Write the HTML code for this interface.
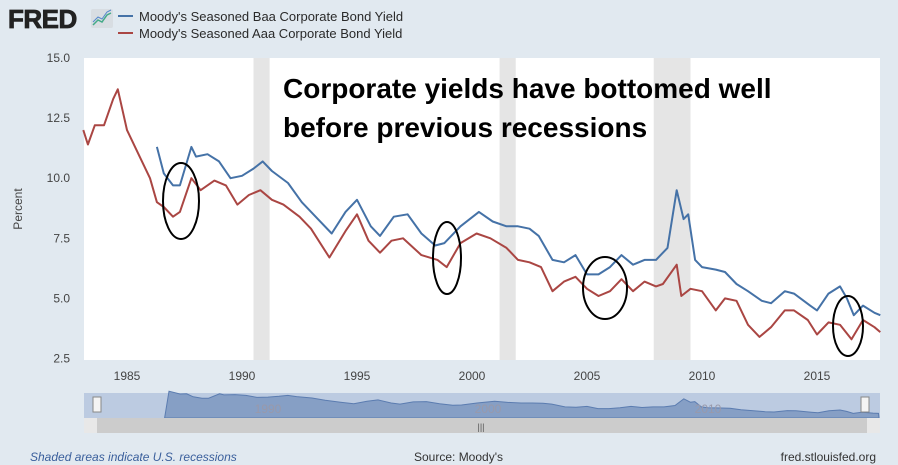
<!DOCTYPE html>
<html><head><meta charset="utf-8"><style>
body{margin:0;background:#e1e9f0;font-family:"Liberation Sans",sans-serif;}
svg{display:block}
</style></head><body>
<svg id="c" width="898" height="465">
<rect width="898" height="465" fill="#e1e9f0"/>
<g>
<text x="8" y="28" font-size="26" font-weight="bold" fill="#222" stroke="#222" stroke-width="0.8" letter-spacing="-0.5">FRED</text>
<rect x="91" y="9" width="22" height="19" rx="2" fill="#d8dde2"/>
<polyline points="93,25 98,20 102,22 107,15 111,13" fill="none" stroke="#4a8" stroke-width="1.5"/>
<polyline points="93,22 98,17 102,19 107,12 111,10" fill="none" stroke="#58c" stroke-width="1"/>
</g>
<g font-size="13" fill="#2a2a2a">
<line x1="118" y1="16" x2="133" y2="16" stroke="#4572a7" stroke-width="2"/>
<text x="139" y="21">Moody's Seasoned Baa Corporate Bond Yield</text>
<line x1="118" y1="33" x2="133" y2="33" stroke="#aa4643" stroke-width="2"/>
<text x="139" y="38">Moody's Seasoned Aaa Corporate Bond Yield</text>
</g>
<rect x="84" y="58" width="796" height="302" fill="#fff"/>
<g id="rec"></g><g id="grid"></g><g id="axes"></g><g id="lines"></g>
<text x="22" y="209" font-size="12" fill="#444" transform="rotate(-90 22 209)" text-anchor="middle">Percent</text>
<g>
<text x="283" y="98" font-size="28" font-weight="bold" fill="#000">Corporate yields have bottomed well</text>
<text x="283" y="137" font-size="28" font-weight="bold" fill="#000">before previous recessions</text>
<g fill="none" stroke="#000" stroke-width="2">
<ellipse cx="181" cy="201" rx="18" ry="38"/>
<ellipse cx="447" cy="258" rx="14" ry="36"/>
<ellipse cx="605" cy="288" rx="22" ry="31"/>
<ellipse cx="848" cy="326" rx="15" ry="30"/>
</g></g>
<g>
<rect x="84" y="393" width="796" height="25" fill="#bccbe1"/>
<path id="navarea" fill="#869fc5" stroke="#5b7cb0" stroke-width="1"/>
<text x="268" y="413" font-size="12" fill="#99a" text-anchor="middle">1990</text>
<text x="488" y="413" font-size="12" fill="#99a" text-anchor="middle">2000</text>
<text x="708" y="413" font-size="12" fill="#99a" text-anchor="middle">2010</text>
<rect x="93" y="397" width="8" height="15" fill="#f4f4f4" stroke="#888"/>
<rect x="861" y="397" width="8" height="15" fill="#f4f4f4" stroke="#888"/>
<rect x="84" y="418" width="796" height="15" fill="#ccc"/>
<rect x="84" y="418" width="13" height="15" fill="#e8e8e8"/><rect x="867" y="418" width="13" height="15" fill="#e8e8e8"/>
<text x="481" y="430" font-size="9" fill="#555" text-anchor="middle">|||</text>
</g>
<text x="30" y="461" font-size="12" font-style="italic" fill="#3a5f9c">Shaded areas indicate U.S. recessions</text>
<text x="414" y="461" font-size="12" fill="#333">Source: Moody's</text>
<text x="876" y="461" font-size="12" fill="#333" text-anchor="end">fred.stlouisfed.org</text>
</svg>
<script>
const aaaYears=[1983.1,1983.3,1983.6,1984.0,1984.4,1984.6,1985,1985.5,1986,1986.3,1986.6,1987,1987.3,1987.8,1988.2,1988.8,1989.3,1989.8,1990.3,1990.8,1991.3,1991.8,1992.5,1993,1993.8,1994.5,1995,1995.5,1996,1996.5,1997,1997.8,1998.5,1998.9,1999.5,2000.2,2000.8,2001.5,2002,2002.5,2003,2003.5,2004,2004.5,2005,2005.5,2006,2006.5,2007,2007.5,2008,2008.3,2008.9,2009.1,2009.5,2010,2010.6,2011,2011.5,2012,2012.5,2013,2013.6,2014,2014.6,2015,2015.5,2016,2016.5,2017,2017.5,2017.75];
const aaaValues=[12.0,11.4,12.2,12.2,13.3,13.7,12.0,11.0,10.0,9.0,8.8,8.4,8.6,10.0,9.5,9.9,9.7,8.9,9.3,9.5,9.1,8.9,8.4,7.9,6.7,7.8,8.5,7.4,6.9,7.4,7.5,6.8,6.6,6.3,7.3,7.7,7.5,7.1,6.6,6.5,6.3,5.3,5.7,5.9,5.4,5.1,5.3,5.8,5.3,5.7,5.5,5.6,6.4,5.1,5.4,5.3,4.5,5.0,4.9,3.9,3.4,3.8,4.5,4.5,4.1,3.5,4.0,3.9,3.3,4.1,3.8,3.6];
const baaYears=[1986.3,1986.6,1987,1987.3,1987.8,1988,1988.5,1989,1989.5,1990,1990.5,1990.9,1991.3,1992,1992.6,1993.3,1993.9,1994.5,1995,1995.6,1996,1996.6,1997.2,1997.8,1998.4,1998.8,1999.5,2000.3,2000.9,2001.5,2002,2002.5,2002.9,2003.5,2004,2004.5,2005,2005.5,2006,2006.5,2007,2007.5,2008,2008.5,2008.9,2009.2,2009.4,2009.7,2010,2010.6,2011,2011.5,2012,2012.6,2013,2013.6,2014,2014.7,2015,2015.5,2016,2016.3,2016.6,2017,2017.5,2017.75];
const baaValues=[11.3,10.2,9.7,9.7,11.3,10.9,11.0,10.7,10.0,10.1,10.4,10.7,10.3,9.8,9.0,8.3,7.7,8.6,9.1,8.0,7.6,8.4,8.5,7.7,7.2,7.3,8.0,8.6,8.2,8.0,8.0,7.9,7.6,6.6,6.5,6.8,6.0,6.0,6.3,6.8,6.4,6.6,6.6,7.1,9.5,8.3,8.5,6.6,6.3,6.2,6.1,5.6,5.3,4.9,4.8,5.3,5.2,4.7,4.5,5.2,5.5,5.0,4.3,4.7,4.4,4.3];
const recessions=[[1990.5,1991.2],[2001.2,2001.9],[2007.9,2009.5]];
const yTicks=[2.5,5.0,7.5,10.0,12.5,15.0];
const xTicks=[1985,1990,1995,2000,2005,2010,2015];
const NS="http://www.w3.org/2000/svg";
const X=y=>84+(y-1983.13)*23;
const Y=v=>358.5-(v-2.5)*(300.5/12.5);
function mk(tag,attrs,parent,txt){const e=document.createElementNS(NS,tag);for(const k in attrs)e.setAttribute(k,attrs[k]);if(txt!==undefined)e.textContent=txt;document.getElementById(parent).appendChild(e);return e;}
recessions.forEach(r=>{const e=mk('rect',{x:X(r[0]),y:58,width:X(r[1])-X(r[0]),height:302,fill:'#e5e5e5'},'rec');

});
yTicks.forEach(v=>{const t=mk('text',{x:70,y:Y(v)+4,'font-size':12,fill:'#444','text-anchor':'end'},'axes',v.toFixed(1));

});
xTicks.forEach(v=>{const t=mk('text',{x:X(v),y:380,'font-size':12,fill:'#444','text-anchor':'middle'},'axes',String(v));

});
function line(xs,vs,col,name){const d=xs.map((x,i)=>(i?'L':'M')+X(x).toFixed(1)+','+Y(vs[i]).toFixed(1)).join('');
const p=mk('path',{d:d,fill:'none',stroke:col,'stroke-width':2,'stroke-linejoin':'round'},'lines');

}
line(aaaYears,aaaValues,'#aa4643','aaa-line');
line(baaYears,baaValues,'#4572a7','baa-line');
const NX=y=>268+(y-1990)*22;const NY=v=>417-(v-3)*2.8;
let d='M'+NX(1985.3)+',418';
aaaYears.forEach((x,i)=>{if(x>=1985.3&&x<1986.3)d+='L'+NX(x).toFixed(1)+','+NY(aaaValues[i]+1.2).toFixed(1);});
baaYears.forEach((x,i)=>{d+='L'+NX(x).toFixed(1)+','+NY(baaValues[i]).toFixed(1);});
d+='L879,418Z';document.getElementById('navarea').setAttribute('d',d);
</script>
</body></html>
